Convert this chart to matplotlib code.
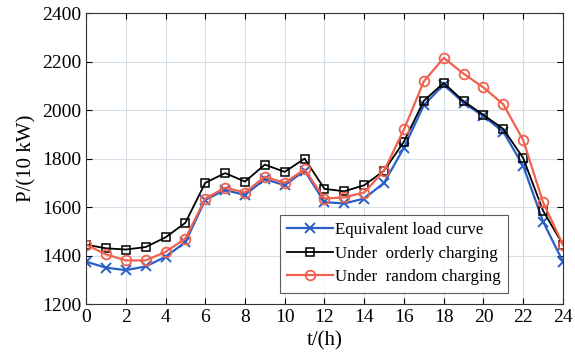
# load curves: equivalent load vs orderly / random EV charging

import matplotlib.pyplot as plt
import numpy as np

plt.rcParams['font.family'] = ['Liberation Serif', 'DejaVu Serif']

hours = list(range(0, 25))
equivalent = [1375, 1350, 1340, 1355, 1395, 1455, 1630, 1670, 1650, 1715, 1690, 1750, 1620,
              1615, 1635, 1700, 1845, 2020, 2105, 2030, 1975, 1910, 1770, 1540, 1375]
orderly = [1445, 1430, 1425, 1435, 1475, 1535, 1700, 1740, 1705, 1775, 1745, 1800, 1675,
           1665, 1690, 1750, 1870, 2038, 2112, 2036, 1980, 1922, 1802, 1585, 1445]
random_c = [1445, 1405, 1380, 1380, 1415, 1470, 1635, 1680, 1660, 1725, 1700, 1755, 1635,
            1640, 1660, 1750, 1920, 2118, 2215, 2150, 2093, 2024, 1876, 1620, 1445]

fig = plt.figure(figsize=(5.75, 3.62), dpi=100)
ax = fig.add_axes([0.1496, 0.160, 0.8294, 0.804])

ax.plot(hours, equivalent, color='#2a5fc8', marker='x', ms=7, mew=1.4, lw=1.6,
        label='Equivalent load curve')
ax.plot(hours, orderly, color='black', marker='s', ms=6, mfc='none', mew=1.1, lw=1.3,
        label='Under  orderly charging')
ax.plot(hours, random_c, color='#f0624d', marker='o', ms=7, mfc='none', mew=1.3, lw=1.6,
        label='Under  random charging')

ax.set_xlim(0, 24)
ax.set_ylim(1200, 2400)
ax.set_xticks(np.arange(0, 25, 2))
ax.set_yticks(np.arange(1200, 2401, 200))
ax.tick_params(direction='in', top=True, right=True, labelsize=14, length=4)
ax.grid(True, color='#d5dde6', lw=0.8)
for s in ax.spines.values():
    s.set_color('#333333')

ax.set_xlabel('t/(h)', fontsize=15)
ax.set_ylabel('P/(10 kW)', fontsize=15)

leg = ax.legend(loc='lower right', bbox_to_anchor=(0.885, 0.038), fontsize=12.2, frameon=True,
                fancybox=False, edgecolor='#333333', handlelength=2.7, borderpad=0.45,
                labelspacing=0.45, handletextpad=0.1, borderaxespad=0)
leg.get_frame().set_linewidth(0.8)

plt.savefig('out.png')
